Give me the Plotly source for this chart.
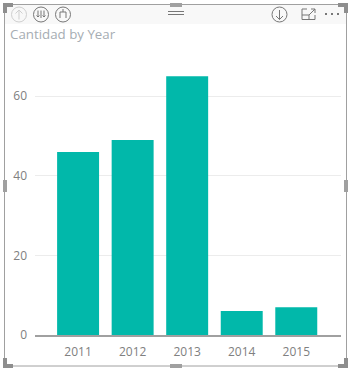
import plotly.graph_objects as go

years = ["2011", "2012", "2013", "2014", "2015"]
cantidad = [46, 49, 65, 6, 7]
y_ticks = [0, 20, 40, 60]
title_text = "Cantidad by Year"

W, H = 352, 370
L, R, T, B = 35, 341, 57, 335
FONT = "Open Sans"
FRAME = "#a0a0a0"


def X(px):
    return (px - L) / (R - L)


def Y(px):
    return (B - px) / (B - T)


shapes = []


def rect(x0, y0, x1, y1, fill, layer="above"):
    shapes.append(dict(type="rect", xref="paper", yref="paper", x0=X(x0), x1=X(x1),
                       y0=Y(y0), y1=Y(y1), fillcolor=fill, line_width=0, layer=layer))


def line(x0, y0, x1, y1, color, width=1):
    shapes.append(dict(type="line", xref="paper", yref="paper", x0=X(x0), x1=X(x1),
                       y0=Y(y0), y1=Y(y1), line=dict(color=color, width=width)))


def circle(cx, cy, r, color, width=1):
    shapes.append(dict(type="circle", xref="paper", yref="paper", x0=X(cx - r), x1=X(cx + r),
                       y0=Y(cy - r), y1=Y(cy + r), line=dict(color=color, width=width)))


# toolbar band
rect(5, 5, 346, 24, "#f8f8f8", "below")
# frame
line(4.5, 4.5, 346.5, 4.5, FRAME)
line(4.5, 366, 346.5, 366, FRAME)
line(4.5, 4.5, 4.5, 366, FRAME)
line(346.5, 4.5, 346.5, 366, FRAME)
# corner handles
for x0, x1, xv0, xv1, y0, y1, yv0, yv1 in [
    (3, 13, 3, 7, 3, 7, 3, 13),
    (338, 348, 344, 348, 3, 7, 3, 13),
    (3, 13, 3, 7, 364, 368, 358, 368),
    (338, 348, 344, 348, 364, 368, 358, 368),
]:
    rect(x0, y0, x1, y1, "#8e8e8e")
    rect(xv0, yv0, xv1, yv1, "#8e8e8e")
# mid handles
rect(170, 3, 182, 7, "#a0a0a0")
rect(170, 364, 182, 368, "#a0a0a0")
rect(3, 180, 7, 192, "#a0a0a0")
rect(344, 180, 348, 192, "#a0a0a0")
# drag grip
line(168, 11.5, 184, 11.5, "#777777")
line(168, 14.5, 184, 14.5, "#777777")
# drill up (disabled)
circle(19, 14.5, 7.5, "#cfcfcf")
line(19, 10, 19, 19.5, "#cfcfcf")
line(15.5, 13.5, 19, 10, "#cfcfcf")
line(22.5, 13.5, 19, 10, "#cfcfcf")
# double arrows
circle(41, 14.5, 7.5, "#777777")
line(38, 10.5, 38, 17, "#777777")
line(41, 10.5, 41, 18, "#777777")
line(44, 10.5, 44, 17, "#777777")
line(36.5, 15.5, 38, 17, "#777777")
line(39.5, 15.5, 38, 17, "#777777")
line(42.5, 15.5, 44, 17, "#777777")
line(45.5, 15.5, 44, 17, "#777777")
# expand hierarchy
circle(63, 14.5, 7.5, "#777777")
line(60, 12, 66, 12, "#777777")
line(60, 12, 60, 18, "#777777")
line(66, 12, 66, 18, "#777777")
line(63, 9, 63, 12, "#777777")
# drill down
circle(279.5, 14.5, 7.5, "#777777")
line(279.5, 10, 279.5, 19.5, "#777777")
line(276, 16, 279.5, 19.5, "#777777")
line(283, 16, 279.5, 19.5, "#777777")
# focus mode
line(302, 9, 302, 19.5, "#777777")
line(302, 19.5, 315, 19.5, "#777777")
line(315, 19.5, 315, 15, "#777777")
line(302, 9, 307, 9, "#777777")
line(302, 15, 309, 15, "#777777")
line(309, 15, 309, 19.5, "#777777")
line(309, 15, 315, 9, "#777777")
line(311, 9, 315, 9, "#777777")
line(315, 9, 315, 13, "#777777")
# more dots
for cx in (326, 332, 338):
    rect(cx - 1, 13, cx + 1, 15, "#777777")

fig = go.Figure(go.Bar(x=years, y=cantidad, marker=dict(color="#01b8aa", line_width=0), width=42 / 54.6))
fig.update_layout(
    width=W, height=H, autosize=False,
    margin=dict(l=L, r=W - R, t=T, b=H - B, pad=0),
    paper_bgcolor="white", plot_bgcolor="white",
    showlegend=False,
    shapes=shapes,
    annotations=[dict(text=title_text, xref="paper", yref="paper", x=X(8), y=Y(33.5),
                      xanchor="left", yanchor="middle", showarrow=False,
                      font=dict(family=FONT, size=13.3, color="#a6adb3"))],
    font=dict(family=FONT),
    xaxis=dict(type="category", range=[-0.79, 4.82], showgrid=False, ticks="", showline=True,
               linecolor="#a0a0a0", linewidth=2, tickfont=dict(size=12, color="#808080"), ticklabelstandoff=5),
    yaxis=dict(range=[0, (B - T) / 3.98], tickvals=y_ticks, showgrid=True, gridcolor="#ececec", gridwidth=1,
               zeroline=False, ticks="", showline=False, tickfont=dict(size=12, color="#808080"), ticklabelstandoff=7),
)
fig.write_html("out.html", config=dict(displayModeBar=False),
               post_script="document.body.style.margin='0';document.documentElement.style.overflow='hidden';")
